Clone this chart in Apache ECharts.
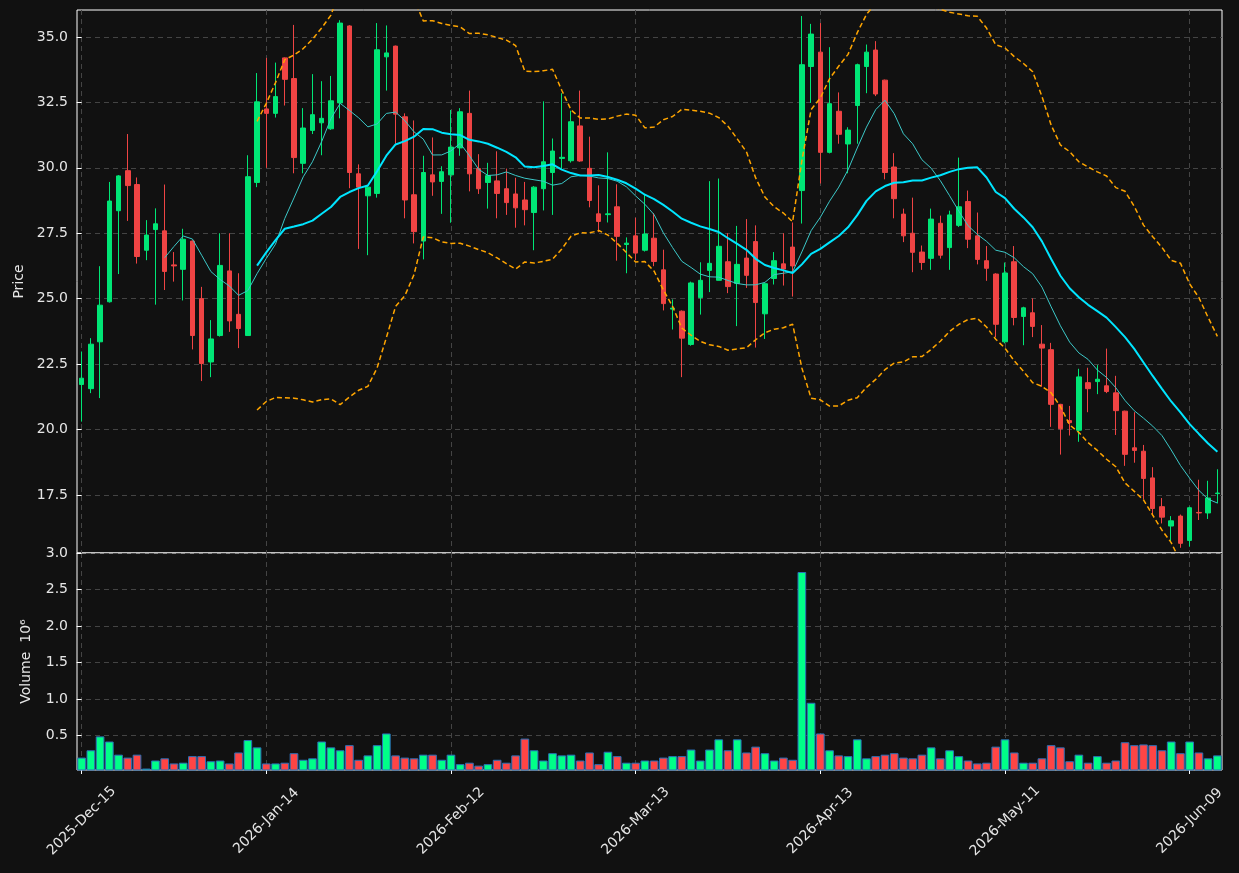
<!DOCTYPE html>
<html>
<head>
<meta charset="utf-8">
<title>Candlestick</title>
<script src="https://cdn.jsdelivr.net/npm/echarts@6/dist/echarts.min.js"></script>
<style>
  html, body { margin: 0; padding: 0; background: #111111; }
  #chart { width: 1239px; height: 873px; }
</style>
</head>
<body>
<div id="chart"></div>
<script>
// Trading days (NYSE calendar, holidays skipped)
const startDate = '2025-12-15';
const holidays = ['2025-12-25', '2026-01-01', '2026-01-19', '2026-02-16', '2026-04-03', '2026-05-25'];
const barCount = 124;
const tickIndices = [0, 20, 40, 60, 80, 100, 120];

const opens = [
  21.72, 21.56, 23.35, 24.88, 28.36, 29.89, 29.36, 26.85, 27.64, 27.59,
  26.29, 26.12, 27.20, 25.00, 22.58, 23.59, 26.06, 24.40, 23.59, 29.44,
  32.25, 32.08, 34.20, 33.41, 30.17, 31.43, 31.72, 31.49, 32.48, 35.42,
  29.77, 28.93, 29.02, 34.24, 34.65, 31.95, 28.97, 27.20, 29.73, 29.48,
  29.73, 30.76, 32.08, 29.97, 29.44, 29.50, 29.20, 29.00, 28.77, 28.29,
  29.20, 29.82, 30.36, 30.27, 31.60, 29.98, 28.24, 28.21, 28.51, 27.07,
  27.40, 26.85, 27.31, 26.10, 24.60, 24.52, 23.25, 25.04, 26.08, 25.70,
  26.41, 25.58, 26.55, 27.18, 24.42, 25.77, 26.33, 26.97, 29.13, 33.87,
  34.42, 30.59, 32.16, 30.91, 32.38, 33.87, 34.50, 33.35, 30.03, 28.23,
  27.50, 26.78, 26.54, 27.88, 26.95, 27.80, 28.71, 27.40, 26.45, 25.94,
  23.35, 26.41, 24.32, 24.46, 23.26, 23.05, 20.96, 20.34, 19.97, 21.79,
  21.83, 21.67, 21.40, 20.70, 19.30, 19.17, 18.15, 17.05, 16.31, 16.69,
  15.76, 16.83, 16.81, 17.55
];
const closes = [
  21.96, 23.26, 24.75, 28.73, 29.69, 29.32, 26.61, 27.43, 27.86, 26.04,
  26.25, 27.27, 23.59, 22.52, 23.46, 26.27, 24.15, 23.86, 29.66, 32.52,
  32.08, 32.72, 33.38, 30.39, 31.52, 32.03, 31.89, 32.56, 35.53, 29.82,
  29.26, 29.26, 34.51, 34.39, 32.05, 28.77, 27.56, 29.82, 29.46, 29.85,
  30.79, 32.14, 29.77, 29.20, 29.70, 29.02, 28.67, 28.47, 28.40, 29.26,
  30.23, 30.64, 30.40, 31.76, 30.26, 28.75, 27.95, 28.24, 27.38, 27.12,
  26.74, 27.47, 26.42, 24.81, 24.64, 23.49, 25.60, 25.70, 26.35, 27.00,
  25.46, 26.31, 25.89, 24.85, 25.57, 26.45, 26.13, 26.25, 33.94, 35.11,
  30.59, 32.45, 31.28, 31.44, 33.94, 34.42, 32.82, 29.82, 28.82, 27.40,
  26.77, 26.38, 28.04, 26.66, 28.20, 28.51, 27.27, 26.50, 26.16, 24.02,
  25.98, 24.28, 24.65, 23.94, 23.11, 20.96, 20.03, 20.26, 22.01, 21.56,
  21.92, 21.45, 20.72, 19.05, 19.20, 18.13, 16.98, 16.65, 16.51, 15.65,
  17.01, 16.81, 17.38, 17.57
];
const lows = [
  20.30, 21.39, 21.20, 24.85, 25.94, 27.97, 26.34, 26.47, 24.77, 25.33,
  25.65, 24.93, 23.06, 21.85, 22.00, 23.55, 23.73, 23.11, 23.59, 29.26,
  30.00, 31.92, 32.38, 29.79, 29.79, 31.29, 30.48, 31.45, 31.89, 29.22,
  26.90, 26.66, 28.86, 32.95, 30.92, 28.07, 27.11, 26.50, 28.93, 28.24,
  27.90, 30.46, 29.10, 29.00, 28.44, 28.07, 28.20, 27.71, 27.80, 26.85,
  28.37, 28.20, 29.97, 30.20, 30.23, 28.49, 27.54, 27.91, 26.45, 25.97,
  26.47, 26.80, 26.24, 24.55, 23.82, 22.00, 23.20, 24.39, 25.25, 25.70,
  25.21, 23.95, 25.41, 23.13, 23.46, 25.54, 25.50, 25.08, 27.87, 32.48,
  29.40, 30.55, 30.92, 29.79, 30.92, 32.85, 32.74, 29.56, 28.07, 27.16,
  26.01, 26.10, 26.10, 26.53, 26.10, 27.74, 26.93, 26.31, 25.68, 23.53,
  23.29, 23.98, 23.22, 23.53, 21.63, 20.10, 19.04, 19.77, 19.53, 20.66,
  21.35, 21.39, 19.79, 18.61, 18.73, 17.34, 16.71, 16.41, 15.69, 15.48,
  15.52, 16.54, 16.58, 17.18
];
const highs = [
  22.98, 23.49, 26.24, 29.46, 29.72, 31.29, 29.63, 28.00, 28.45, 29.36,
  26.78, 27.67, 27.22, 25.45, 24.18, 27.50, 27.50, 25.97, 30.48, 33.62,
  34.20, 34.02, 34.22, 35.46, 32.28, 33.58, 33.31, 33.51, 35.64, 35.45,
  30.13, 29.30, 35.53, 35.44, 34.67, 32.08, 31.81, 30.46, 31.16, 30.06,
  32.21, 32.28, 32.95, 30.52, 30.19, 30.63, 29.97, 29.62, 29.46, 29.30,
  32.54, 31.12, 32.85, 32.18, 32.95, 31.19, 29.33, 30.59, 29.37, 27.34,
  28.09, 29.00, 28.27, 26.87, 24.97, 24.55, 25.65, 26.39, 29.49, 29.59,
  27.50, 27.78, 28.04, 27.80, 25.60, 26.78, 27.50, 27.91, 35.80, 35.50,
  35.53, 34.61, 32.88, 31.55, 33.98, 34.71, 34.84, 33.37, 30.56, 28.44,
  28.86, 27.03, 28.44, 28.17, 28.36, 30.39, 29.13, 28.29, 27.01, 25.97,
  26.38, 27.01, 24.69, 25.01, 23.99, 23.31, 20.98, 20.90, 22.32, 22.36,
  22.46, 23.09, 22.05, 20.72, 20.66, 19.41, 18.56, 17.38, 16.69, 16.75,
  17.05, 18.08, 18.04, 18.48
];
// volume, millions
const volumes = [
  0.20, 0.30, 0.49, 0.42, 0.24, 0.20, 0.24, 0.05, 0.16, 0.19,
  0.12, 0.13, 0.22, 0.22, 0.15, 0.16, 0.12, 0.27, 0.44, 0.34,
  0.12, 0.12, 0.13, 0.26, 0.17, 0.19, 0.42, 0.34, 0.30, 0.37,
  0.17, 0.23, 0.37, 0.53, 0.23, 0.20, 0.19, 0.24, 0.24, 0.17,
  0.24, 0.11, 0.13, 0.09, 0.11, 0.17, 0.13, 0.23, 0.46, 0.30,
  0.16, 0.26, 0.23, 0.24, 0.16, 0.27, 0.11, 0.28, 0.22, 0.13,
  0.13, 0.16, 0.16, 0.20, 0.22, 0.22, 0.31, 0.16, 0.31, 0.45,
  0.30, 0.45, 0.27, 0.35, 0.26, 0.16, 0.20, 0.17, 2.74, 0.95,
  0.53, 0.30, 0.23, 0.22, 0.45, 0.19, 0.22, 0.24, 0.26, 0.20,
  0.19, 0.24, 0.34, 0.19, 0.30, 0.22, 0.16, 0.12, 0.13, 0.35,
  0.45, 0.27, 0.13, 0.13, 0.19, 0.37, 0.34, 0.15, 0.24, 0.13,
  0.22, 0.13, 0.16, 0.41, 0.37, 0.38, 0.37, 0.30, 0.42, 0.26,
  0.42, 0.27, 0.19, 0.23
];
const priceTicks = [17.5, 20.0, 22.5, 25.0, 27.5, 30.0, 32.5, 35.0];
const volumeTicks = [0.5, 1.0, 1.5, 2.0, 2.5, 3.0];

const MONTHS = ['Jan', 'Feb', 'Mar', 'Apr', 'May', 'Jun', 'Jul', 'Aug', 'Sep', 'Oct', 'Nov', 'Dec'];

function tradingDays(start, count, skip) {
  const out = [];
  const d = new Date(start + 'T00:00:00Z');
  while (out.length < count) {
    const iso = d.toISOString().slice(0, 10);
    const wd = d.getUTCDay();
    if (wd !== 0 && wd !== 6 && skip.indexOf(iso) < 0) {
      out.push(d.getUTCFullYear() + '-' + MONTHS[d.getUTCMonth()] + '-' + iso.slice(8, 10));
    }
    d.setUTCDate(d.getUTCDate() + 1);
  }
  return out;
}

function sma(arr, n) {
  return arr.map((_, i) => {
    if (i < n - 1) return null;
    let s = 0;
    for (let k = i - n + 1; k <= i; k++) s += arr[k];
    return +(s / n).toFixed(4);
  });
}

function bollinger(arr, n, k) {
  const mid = sma(arr, n);
  const up = [], lo = [];
  arr.forEach((_, i) => {
    if (mid[i] === null) { up.push(null); lo.push(null); return; }
    let v = 0;
    for (let j = i - n + 1; j <= i; j++) v += (arr[j] - mid[i]) ** 2;
    const sd = Math.sqrt(v / n);
    up.push(+(mid[i] + k * sd).toFixed(4));
    lo.push(+(mid[i] - k * sd).toFixed(4));
  });
  return { up, lo };
}

const dates = tradingDays(startDate, barCount, holidays);
const ma10 = sma(closes, 10);
const ma20 = sma(closes, 20);
const bb = bollinger(closes, 20, 2);

const UP = '#00e676', DOWN = '#ef4444';
const VOL_UP = '#00ff88', VOL_DOWN = '#ff4545';
const TEXT = '#e6e6e6';
const GRID_LINE = { show: true, lineStyle: { color: '#444444', type: [5, 4], width: 1 } };
const FONT = 'DejaVu Sans';

const candles = opens.map((o, i) => [o, closes[i], lows[i], highs[i]]);
const volumeBars = volumes.map((v, i) => ({
  value: v,
  itemStyle: { color: closes[i] >= opens[i] ? VOL_UP : VOL_DOWN },
}));

const chart = echarts.init(document.getElementById('chart'));

chart.setOption({
  animation: false,
  backgroundColor: '#111111',
  grid: [
    { left: 77, right: 17, top: 10, height: 543, show: true, backgroundColor: '#111111', borderColor: '#ffffff', borderWidth: 1 },
    { left: 77, right: 17, top: 553, height: 217, show: true, backgroundColor: '#111111', borderColor: '#ffffff', borderWidth: 1 },
  ],
  xAxis: [
    { type: 'category', gridIndex: 0, data: dates, boundaryGap: true, show: false },
    { type: 'category', gridIndex: 1, data: dates, boundaryGap: true, show: false },
    {
      type: 'value', gridIndex: 0, min: -0.5, max: barCount - 0.5,
      axisLine: { show: false },
      axisTick: { show: false, customValues: tickIndices },
      axisLabel: { show: false, customValues: tickIndices },
      splitLine: GRID_LINE,
    },
    {
      type: 'value', gridIndex: 1, min: -0.5, max: barCount - 0.5, position: 'bottom',
      axisLine: { show: false },
      axisTick: { show: true, customValues: tickIndices, length: 4, lineStyle: { color: '#ffffff' } },
      axisLabel: {
        customValues: tickIndices,
        formatter: v => dates[Math.round(v)],
        rotate: 45, align: 'center', verticalAlign: 'middle',
        color: TEXT, fontSize: 14, fontFamily: FONT, margin: 51,
      },
      splitLine: GRID_LINE,
    },
  ],
  yAxis: [
    {
      type: 'value', gridIndex: 0, min: 15.28, max: 36.03,
      name: 'Price', nameLocation: 'middle', nameGap: 51,
      nameTextStyle: { color: TEXT, fontSize: 14, fontFamily: FONT },
      axisLine: { show: false },
      axisTick: { show: true, customValues: priceTicks, length: 5, lineStyle: { color: '#ffffff' } },
      axisLabel: { customValues: priceTicks, formatter: v => v.toFixed(1), color: TEXT, fontSize: 14, fontFamily: FONT, margin: 9 },
      splitLine: GRID_LINE,
    },
    {
      type: 'value', gridIndex: 1, min: 0.03, max: 3.0,
      name: 'Volume  10\u2076', nameLocation: 'middle', nameGap: 44,
      nameTextStyle: { color: TEXT, fontSize: 14, fontFamily: FONT },
      axisLine: { show: false },
      axisTick: { show: true, customValues: volumeTicks, length: 5, lineStyle: { color: '#ffffff' } },
      axisLabel: { customValues: volumeTicks, formatter: v => v.toFixed(1), color: TEXT, fontSize: 14, fontFamily: FONT, margin: 9 },
      splitLine: GRID_LINE,
    },
  ],
  series: [
    {
      name: 'OHLC', type: 'candlestick', xAxisIndex: 0, yAxisIndex: 0,
      data: candles, barWidth: 5,
      itemStyle: { color: UP, color0: DOWN, borderColor: UP, borderColor0: DOWN, borderWidth: 1 },
    },
    {
      name: 'MA10', type: 'line', xAxisIndex: 0, yAxisIndex: 0, data: ma10,
      showSymbol: false, lineStyle: { color: '#3cc8c8', width: 1 }, z: 3,
    },
    {
      name: 'MA20', type: 'line', xAxisIndex: 0, yAxisIndex: 0, data: ma20,
      showSymbol: false, lineStyle: { color: '#00e5ff', width: 2 }, z: 3,
    },
    {
      name: 'BB upper', type: 'line', xAxisIndex: 0, yAxisIndex: 0, data: bb.up,
      showSymbol: false, lineStyle: { color: '#ffa500', width: 1.5, type: [5, 3] }, z: 3,
    },
    {
      name: 'BB lower', type: 'line', xAxisIndex: 0, yAxisIndex: 0, data: bb.lo,
      showSymbol: false, lineStyle: { color: '#ffa500', width: 1.5, type: [5, 3] }, z: 3,
    },
    {
      name: 'Volume', type: 'bar', xAxisIndex: 1, yAxisIndex: 1, data: volumeBars,
      barCategoryGap: '6%',
      itemStyle: { borderColor: '#2a70b8', borderWidth: 1 },
    },
  ],
});

window.addEventListener('resize', () => chart.resize());
</script>
</body>
</html>
